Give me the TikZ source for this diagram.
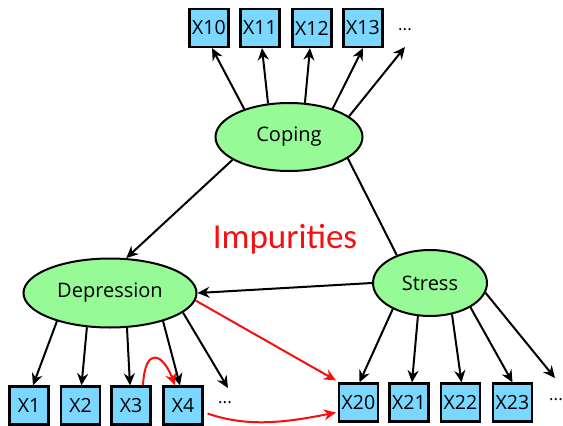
\documentclass[tikz,border=0pt]{standalone}
\usepackage{fontspec}
\setmainfont{Open Sans}
\newfontfamily\calibfont{Carlito}
\usetikzlibrary{shapes.geometric, arrows.meta}
\definecolor{boxblue}{RGB}{122,215,255}
\definecolor{latgreen}{RGB}{150,250,150}
\definecolor{impred}{RGB}{245,15,15}
\tikzstyle{latent} = [ellipse, draw=black, line width=2pt, fill=latgreen, inner sep=0pt, font=\fontsize{20}{23}\selectfont]
\tikzstyle{item} = [rectangle, draw=black, line width=2.2pt, fill=boxblue, minimum width=39pt, minimum height=38pt, inner sep=1pt, font=\fontsize{19.5}{23}\selectfont]
\tikzstyle{dots} = [inner sep=0pt, font=\fontsize{17}{19}\selectfont]
\tikzstyle{arrow} = [line width=2pt, -{Stealth[length=12pt,width=11pt]}]
\tikzstyle{redarrow} = [line width=2pt, impred, -{Stealth[length=12pt,width=11pt]}]

\begin{document}
\begin{tikzpicture}[x=1pt, y=-1pt]
    \useasboundingbox (0,0) rectangle (563,426);

    % Latent variables
    \node (cope) [latent, minimum width=147pt, minimum height=68pt] at (289,137) {Coping};
    \node (dep) [latent, minimum width=173pt, minimum height=69pt] at (110,293) {Depression};
    \node (stress) [latent, minimum width=114pt, minimum height=66pt] at (430,283) {Stress};

    \node (imp) [text=impred, font=\calibfont\fontsize{35}{40}\selectfont] at (285,239) {Impurities};

    % Indicators
    \node (x10) [item] at (209,28) {X10};
    \node (x11) [item] at (260,28) {X11};
    \node (x12) [item] at (312,28) {X12};
    \node (x13) [item] at (363,28) {X13};
    \node (d1) [dots] at (405,30) {...};

    \node (x1) [item] at (29,405.5) {X1};
    \node (x2) [item] at (80.5,405.5) {X2};
    \node (x3) [item] at (131,405.5) {X3};
    \node (x4) [item] at (183,405.5) {X4};
    \node (d2) [dots] at (225,403) {...};

    \node (x20) [item] at (358.5,402.5) {X20};
    \node (x21) [item] at (409,402.5) {X21};
    \node (x22) [item] at (460.5,402.5) {X22};
    \node (x23) [item] at (512.5,402.5) {X23};
    \node (d3) [dots] at (556,400) {...};

    \coordinate (e1) at (405,47);
    \coordinate (e2) at (228,388);
    \coordinate (e3) at (555,378);

    % Connections
    \draw [arrow] (cope.148) -- ([xshift=3pt]x10.south);
    \draw [arrow] (cope.122) -- ([xshift=2pt]x11.south);
    \draw [arrow] (cope.65) -- ([xshift=-2pt]x12.south);
    \draw [arrow] (cope.33) -- (x13.south);
    \draw [arrow] (cope.19) -- (e1);

    \draw [arrow] (cope.202) -- (dep.65);
    \draw [line width=2pt] (cope.340) -- (stress.140);
    \draw [arrow] (stress.west) -- (dep.east);

    \draw [arrow] (dep.208) -- ([xshift=4pt]x1.north);
    \draw [arrow] (dep.236) -- ([xshift=1pt]x2.north);
    \draw [arrow] (dep.296) -- ([xshift=-1pt]x3.north);
    \draw [arrow] (dep.332) -- ([xshift=-3pt]x4.north);
    \draw [arrow] (dep.345) -- (e2);

    \draw [arrow] (stress.215) -- ([xshift=1pt]x20.north);
    \draw [arrow] (stress.250) -- ([xshift=3pt]x21.north);
    \draw [arrow] (stress.305) -- ([xshift=1pt]x22.north);
    \draw [arrow] (stress.329) -- (x23.north);
    \draw [arrow] (stress.350) -- (e3);

    % Impurities
    \draw [redarrow] (dep.355) -- ([xshift=-2pt,yshift=2pt]x20.north west);
    \draw [redarrow] ([xshift=12pt]x3.north) .. controls +(2,-40) and +(-12,-32) .. ([xshift=-8pt]x4.north);
    \draw [redarrow] ([xshift=4pt,yshift=-8pt]x4.east) .. controls +(40,14) and +(-50,10) .. ([xshift=-2pt,yshift=-10pt]x20.west);

\end{tikzpicture}
\end{document}
